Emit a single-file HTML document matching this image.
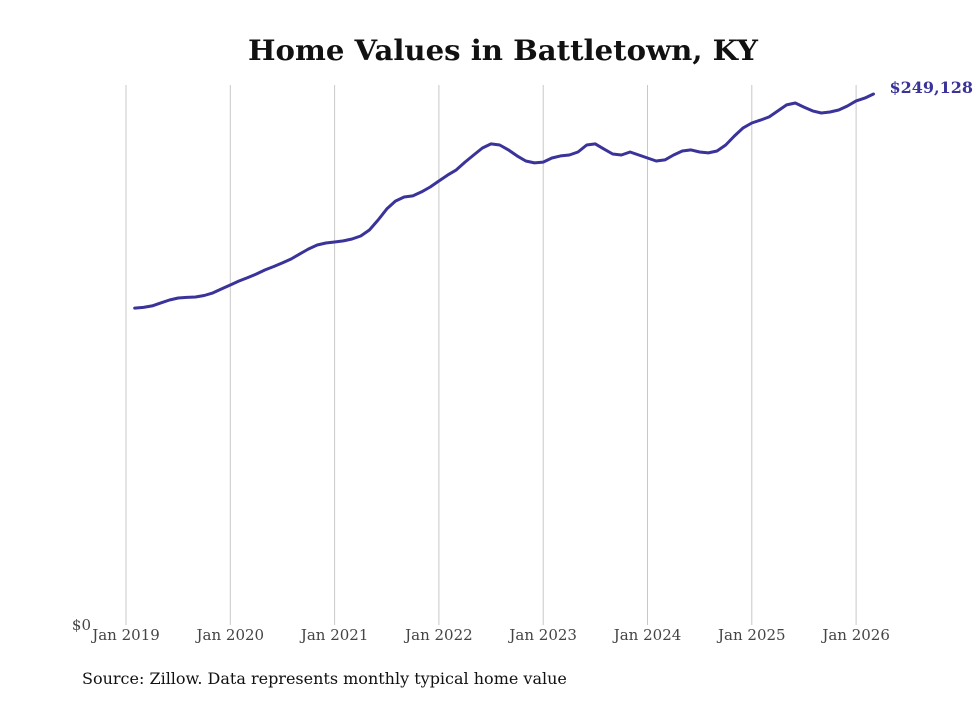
<!DOCTYPE html>
<html><head><meta charset="utf-8"><style>
body{margin:0;background:#fff;width:980px;height:699px;overflow:hidden}
svg text{font-family:"DejaVu Serif","Liberation Serif",serif}
</style></head><body>
<svg id="chart" width="980" height="699" viewBox="0 0 980 699">
<text x="503" y="60" text-anchor="middle" font-size="28" font-weight="bold" fill="#111" textLength="510" lengthAdjust="spacingAndGlyphs">Home Values in Battletown, KY</text>
<g id="grid"></g>
<g id="xticks"></g>
<text x="91" y="630" text-anchor="end" font-size="15" fill="#444">$0</text>
<path id="line" fill="none" stroke="#3a3399" stroke-width="3" stroke-linejoin="round" stroke-linecap="round"/>
<text id="endlabel" font-size="16" font-weight="bold" fill="#3a3399"></text>
<text x="82" y="684" font-size="16" fill="#111">Source: Zillow. Data represents monthly typical home value</text>
</svg>
<script>
const tickLabels=["Jan 2019","Jan 2020","Jan 2021","Jan 2022","Jan 2023","Jan 2024","Jan 2025","Jan 2026"];
const startMonth=1; // Feb 2019 (months since Jan 2019)
const values=[148.7,149.0,149.7,151.1,152.5,153.4,153.7,153.9,154.6,155.8,
157.7,159.5,161.4,163.0,164.7,166.6,168.2,169.9,171.7,174.1,176.4,178.3,
179.2,179.7,180.2,181.1,182.5,185.3,190.0,195.2,198.9,200.8,201.3,203.2,
205.5,208.3,211.1,213.5,217.2,220.5,223.8,225.7,225.2,222.9,220.1,217.7,
216.8,217.2,219.1,220.1,220.5,221.9,225.2,225.7,223.3,221.0,220.5,221.9,
220.5,219.1,217.7,218.2,220.5,222.4,222.9,221.9,221.5,222.4,225.2,229.4,
233.2,235.5,236.9,238.4,241.2,244.0,244.9,243.0,241.2,240.2,240.7,241.6,
243.5,245.9,247.2,249.128];
const endLabel="$249,128";
const x0=126,yearW=104.3,y0=625,yTop=94,yMax=249.128;
const xs=m=>x0+m*yearW/12;
const ys=v=>y0-(v/yMax)*(y0-yTop);
const ns="http://www.w3.org/2000/svg";
const grid=document.getElementById('grid'),xt=document.getElementById('xticks');
tickLabels.forEach((t,i)=>{
 const x=xs(i*12);
 const l=document.createElementNS(ns,'line');
 
 
 l.setAttribute('x1',x);l.setAttribute('x2',x);l.setAttribute('y1',85);l.setAttribute('y2',y0);
 l.setAttribute('stroke','#c8c8c8');l.setAttribute('stroke-width','1');
 grid.appendChild(l);
 const tx=document.createElementNS(ns,'text');
 
 
 tx.setAttribute('x',x);tx.setAttribute('y',640);tx.setAttribute('text-anchor','middle');
 tx.setAttribute('font-size','15');tx.setAttribute('fill','#444');tx.textContent=t;
 xt.appendChild(tx);
});
let d='';
values.forEach((v,i)=>{d+=(i?'L':'M')+xs(startMonth+i).toFixed(1)+' '+ys(v).toFixed(1);});
document.getElementById('line').setAttribute('d',d);
const last=values.length-1,el=document.getElementById('endlabel');
el.setAttribute('x',xs(startMonth+last)+16);el.setAttribute('y',ys(values[last])-1);
el.textContent=endLabel;
</script>
</body></html>
